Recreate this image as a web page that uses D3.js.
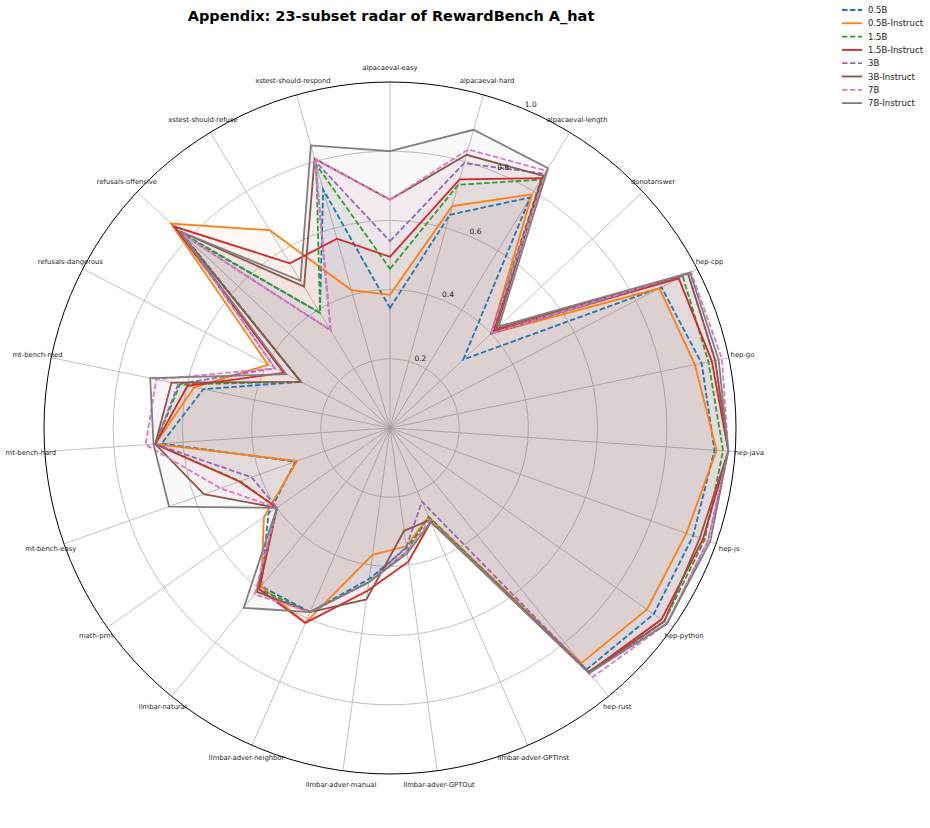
<!DOCTYPE html>
<html>
<head>
<meta charset="utf-8">
<script src="https://cdn.jsdelivr.net/npm/d3@7"></script>
<style>
  body { margin: 0; background: #fff; }
  svg { font-family: "DejaVu Sans", sans-serif; }
</style>
</head>
<body>
<svg id="canvas" width="930" height="828"></svg>
<script>
// subsets, clockwise from the top
let subsets = [
    "alpacaeval-easy", "alpacaeval-hard", "alpacaeval-length", "donotanswer",
    "hep-cpp", "hep-go", "hep-java", "hep-js", "hep-python", "hep-rust",
    "llmbar-adver-GPTInst", "llmbar-adver-GPTOut", "llmbar-adver-manual",
    "llmbar-adver-neighbor", "llmbar-natural", "math-prm", "mt-bench-easy",
    "mt-bench-hard", "mt-bench-med", "refusals-dangerous", "refusals-offensive",
    "xstest-should-refuse", "xstest-should-respond"
]

let modelNames = ["0.5B", "0.5B-Instruct", "1.5B", "1.5B-Instruct", "3B", "3B-Instruct", "7B", "7B-Instruct"]

let v05B      = [0.347, 0.640, 0.780, 0.290, 0.884, 0.920, 0.940, 0.930, 0.933, 0.900, 0.280, 0.350, 0.440, 0.580, 0.590, 0.430, 0.290, 0.662, 0.551, 0.290, 0.820, 0.390, 0.716]
let v05BInst  = [0.385, 0.666, 0.790, 0.400, 0.877, 0.900, 0.946, 0.909, 0.909, 0.876, 0.280, 0.345, 0.370, 0.614, 0.590, 0.446, 0.285, 0.680, 0.578, 0.397, 0.866, 0.669, 0.414]
let v15B      = [0.460, 0.730, 0.840, 0.400, 0.953, 0.940, 0.965, 0.965, 0.970, 0.910, 0.280, 0.360, 0.450, 0.580, 0.600, 0.400, 0.460, 0.680, 0.620, 0.290, 0.830, 0.389, 0.790]
let v15BInst  = [0.495, 0.746, 0.845, 0.410, 0.940, 0.950, 0.980, 0.960, 0.960, 0.910, 0.296, 0.390, 0.475, 0.614, 0.600, 0.400, 0.462, 0.680, 0.598, 0.346, 0.853, 0.557, 0.568]
let v3B       = [0.540, 0.795, 0.860, 0.400, 0.970, 0.960, 0.980, 0.975, 0.980, 0.910, 0.232, 0.347, 0.450, 0.580, 0.610, 0.400, 0.425, 0.680, 0.625, 0.375, 0.820, 0.330, 0.800]
let v3BInst   = [0.660, 0.820, 0.853, 0.420, 0.970, 0.960, 0.980, 0.950, 0.970, 0.910, 0.290, 0.300, 0.500, 0.580, 0.610, 0.400, 0.571, 0.680, 0.645, 0.290, 0.834, 0.478, 0.808]
let v7B       = [0.660, 0.836, 0.870, 0.400, 0.980, 0.980, 0.980, 0.975, 0.980, 0.928, 0.290, 0.360, 0.450, 0.580, 0.620, 0.400, 0.520, 0.708, 0.690, 0.375, 0.820, 0.332, 0.808]
let v7BInst   = [0.800, 0.895, 0.879, 0.430, 0.977, 0.970, 0.980, 0.982, 0.980, 0.913, 0.296, 0.366, 0.450, 0.580, 0.670, 0.400, 0.678, 0.685, 0.708, 0.338, 0.834, 0.498, 0.848]

let modelValues = [v05B, v05BInst, v15B, v15BInst, v3B, v3BInst, v7B, v7BInst]
let modelColors = ["#1f77b4", "#ff7f0e", "#2ca02c", "#d62728", "#9467bd", "#8c564b", "#e377c2", "#7f7f7f"]
let dashed = [true, false, true, false, true, false, true, false]

let rTicks = [0.2, 0.4, 0.6, 0.8, 1.0]

const cx = 390, cy = 428, R = 346
let canvas = d3.select("#canvas")

const rScale = d3.scaleLinear().domain([0, 1]).range([0, R])
const angle = d3.scaleLinear().domain([0, subsets.length]).range([0, 2 * Math.PI])

const g = canvas.append("g").attr("transform", `translate(${cx},${cy})`)

// rings
g.selectAll(".ring")
    .data(rTicks.slice(0, -1))
    .enter()
    .append("circle")
    .attr("r", d => rScale(d))
    .attr("fill", "none")
    .attr("stroke", "#b0b0b0")
    .attr("stroke-width", 0.8)

// spokes
g.selectAll(".spoke")
    .data(subsets)
    .enter()
    .append("line")
    .attr("x1", 0).attr("y1", 0)
    .attr("x2", (d, i) => rScale(1) * Math.sin(angle(i)))
    .attr("y2", (d, i) => -rScale(1) * Math.cos(angle(i)))
    .attr("stroke", "#b0b0b0")
    .attr("stroke-width", 0.8)

// series: fill then line
const radar = d3.lineRadial()
    .angle((d, i) => angle(i))
    .radius(d => rScale(d))
    .curve(d3.curveLinearClosed)

modelValues.forEach((vals, k) => {
    g.append("path")
        .attr("d", radar(vals))
        .attr("fill", modelColors[k])
        .attr("fill-opacity", 0.045)
        .attr("stroke", "none")
})
modelValues.forEach((vals, k) => {
    g.append("path")
        .attr("d", radar(vals))
        .attr("fill", "none")
        .attr("stroke", modelColors[k])
        .attr("stroke-width", 1.8)
        .attr("stroke-linejoin", "miter")
        .attr("stroke-dasharray", dashed[k] ? "5.5,2.4" : null)
})

// outer spine
g.append("circle")
    .attr("r", rScale(1))
    .attr("fill", "none")
    .attr("stroke", "#000")
    .attr("stroke-width", 1)

// radial tick labels
const tickAng = 23.5 * Math.PI / 180
g.selectAll(".rlab")
    .data(rTicks)
    .enter()
    .append("text")
    .attr("x", d => (rScale(d) + 7) * Math.sin(tickAng))
    .attr("y", d => -(rScale(d) + 7) * Math.cos(tickAng))
    .attr("text-anchor", "middle")
    .attr("dominant-baseline", "central")
    .attr("font-size", 7.5)
    .attr("fill", "#222")
    .text(d => d.toFixed(1))

// category labels
g.selectAll(".cat")
    .data(subsets)
    .enter()
    .append("text")
    .attr("x", (d, i) => (R + 14) * Math.sin(angle(i)))
    .attr("y", (d, i) => -(R + 14) * Math.cos(angle(i)))
    .attr("text-anchor", "middle")
    .attr("dominant-baseline", "central")
    .attr("font-size", 6.8)
    .attr("fill", "#222")
    .text(d => d)

// title
canvas.append("text")
    .attr("x", 391)
    .attr("y", 21)
    .attr("text-anchor", "middle")
    .attr("font-size", 14.5)
    .attr("font-weight", "bold")
    .text("Appendix: 23-subset radar of RewardBench A_hat")

// legend
const legend = canvas.append("g").attr("transform", "translate(842,10)")
modelNames.forEach((name, k) => {
    const row = legend.append("g").attr("transform", `translate(0,${k * 13.3})`)
    row.append("line")
        .attr("x1", 0).attr("x2", 20)
        .attr("y1", 0).attr("y2", 0)
        .attr("stroke", modelColors[k])
        .attr("stroke-width", 1.8)
        .attr("stroke-dasharray", dashed[k] ? "5.5,2.4" : null)
    row.append("text")
        .attr("x", 26)
        .attr("y", 0)
        .attr("dominant-baseline", "central")
        .attr("font-size", 8.5)
        .attr("fill", "#222")
        .text(name)
})
</script>
</body>
</html>
